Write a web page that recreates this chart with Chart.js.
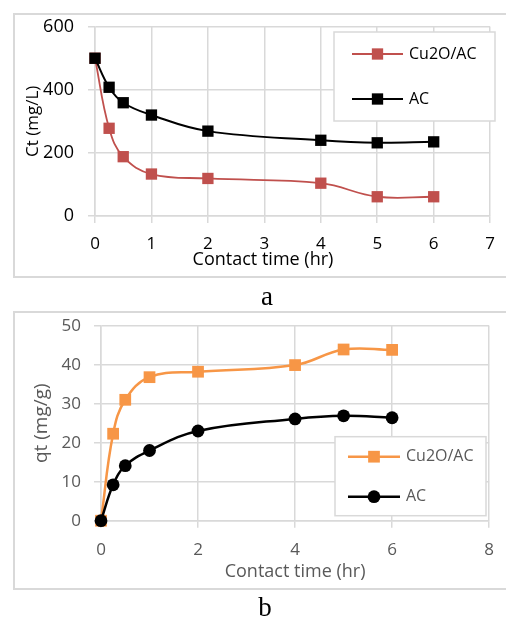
<!DOCTYPE html>
<html>
<head>
<meta charset="utf-8">
<script src="https://cdn.jsdelivr.net/npm/chart.js@4/dist/chart.umd.min.js"></script>
<style>
  body { margin: 0; width: 506px; height: 619px; overflow: hidden; background: #fff; position: relative; }
  .frame { position: absolute; left: 13px; width: 530px; border: 2px solid #d9d9d9; box-sizing: border-box; }
  #frameA { top: 13px; height: 265px; }
  #frameB { top: 311px; height: 279px; }
  canvas { position: absolute; left: 0; }
  #chartA { top: 0; }
  #chartB { top: 300px; }
  .lbl { position: absolute; width: 24px; text-align: center; font: 27px "Liberation Serif", "Times New Roman", serif; line-height: 27px; color: #000; }
</style>
</head>
<body>
<div class="frame" id="frameA"></div>
<div class="frame" id="frameB"></div>
<canvas id="chartA" width="506" height="300"></canvas>
<canvas id="chartB" width="506" height="319"></canvas>
<div class="lbl" style="left:255px; top:283px;">a</div>
<div class="lbl" style="left:253px; top:594px;">b</div>
<script>
// contact time (hr), shared by both panels
const timeHr = [0, 0.25, 0.5, 1, 2, 4, 5, 6];

// panel a - Ct (mg/L)
const ctCu2O = [500, 278, 188, 133, 119, 104, 61, 61];
const ctAC = [500, 408, 359, 320, 269, 240, 232, 235];
const ctTicksY = [0, 200, 400, 600];
const ctTicksX = [0, 1, 2, 3, 4, 5, 6, 7];

// panel b - qt (mg/g)
const qtCu2O = [0, 22.3, 31.0, 36.8, 38.2, 39.9, 43.9, 43.8];
const qtAC = [0, 9.2, 14.1, 18.0, 23.0, 26.1, 26.9, 26.4];
const qtTicksY = [0, 10, 20, 30, 40, 50];
const qtTicksX = [0, 2, 4, 6, 8];

const seriesNames = ['Cu2O/AC', 'AC'];

Chart.defaults.font.family = '"Open Sans", "Noto Sans", sans-serif';
Chart.defaults.animation = false;

const toPoints = (ys) => ys.map((y, i) => ({ x: timeHr[i], y: y }));
const fixedTicks = (list) => (scale) => { scale.ticks = list.map(v => ({ value: v })); };

function drawMarker(ctx, style, r, x, y, color) {
  ctx.fillStyle = color;
  ctx.beginPath();
  if (style === 'circle') {
    ctx.arc(x, y, r, 0, Math.PI * 2);
  } else {
    const s = r * Math.SQRT1_2;
    ctx.rect(x - s, y - s, 2 * s, 2 * s);
  }
  ctx.fill();
}

// Excel style legend box sitting inside the plot
const boxLegend = {
  id: 'boxLegend',
  afterDraw(chart, args, opts) {
    const ctx = chart.ctx;
    ctx.save();
    ctx.fillStyle = '#fff';
    ctx.fillRect(opts.x, opts.y, opts.w, opts.h);
    ctx.strokeStyle = '#d9d9d9';
    ctx.lineWidth = 1.5;
    ctx.strokeRect(opts.x, opts.y, opts.w, opts.h);
    ctx.font = opts.font;
    ctx.textBaseline = 'middle';
    seriesNames.forEach((name, i) => {
      const ds = chart.data.datasets.find(d => d.label === name);
      const y = opts.rows[i];
      ctx.strokeStyle = ds.borderColor;
      ctx.lineWidth = ds.borderWidth;
      ctx.beginPath();
      ctx.moveTo(opts.line[0], y);
      ctx.lineTo(opts.line[1], y);
      ctx.stroke();
      drawMarker(ctx, ds.pointStyle, ds.pointRadius, (opts.line[0] + opts.line[1]) / 2, y, ds.backgroundColor);
      ctx.fillStyle = opts.color;
      ctx.fillText(name, opts.textX, y);
    });
    ctx.restore();
  }
};

// free standing axis title (panel a has it off-centre)
const freeTitle = {
  id: 'freeTitle',
  afterDraw(chart, args, opts) {
    if (!opts.text) return;
    const ctx = chart.ctx;
    ctx.save();
    ctx.font = opts.font;
    ctx.fillStyle = opts.color;
    ctx.textAlign = 'center';
    ctx.textBaseline = 'middle';
    ctx.fillText(opts.text, opts.x, opts.y);
    ctx.restore();
  }
};

const gridStyle = { color: '#d9d9d9', lineWidth: 1.5, tickLength: 7, tickColor: '#d9d9d9' };
const borderStyle = { color: '#d9d9d9', width: 1.5 };

// Panel a
new Chart(document.getElementById('chartA'), {
  type: 'line',
  data: {
    datasets: [{
      label: 'Cu2O/AC',
      data: toPoints(ctCu2O),
      borderColor: '#c0504d',
      backgroundColor: '#c0504d',
      borderWidth: 1.8,
      pointStyle: 'rect',
      pointRadius: 8,
      pointBorderWidth: 0,
      tension: 0.4,
      clip: false,
      order: 1
    }, {
      label: 'AC',
      data: toPoints(ctAC),
      borderColor: '#000000',
      backgroundColor: '#000000',
      borderWidth: 2,
      pointStyle: 'rect',
      pointRadius: 8,
      pointBorderWidth: 0,
      tension: 0.4,
      clip: false,
      order: 0
    }]
  },
  options: {
    responsive: false,
    layout: { padding: { left: 0, top: 26.7, right: 8, bottom: 24 } },
    scales: {
      x: {
        type: 'linear',
        min: 0,
        max: 7,
        afterBuildTicks: fixedTicks(ctTicksX),
        afterFit: (s) => { s.height = 60; },
        grid: gridStyle,
        border: borderStyle,
        ticks: { color: '#000', padding: 11, font: { size: 17 } }
      },
      y: {
        min: 0,
        max: 600,
        afterBuildTicks: fixedTicks(ctTicksY),
        afterFit: (s) => { s.width = 95; },
        grid: gridStyle,
        border: borderStyle,
        ticks: { color: '#000', padding: 14, font: { size: 18 } },
        title: { display: true, text: 'Ct (mg/L)', color: '#000', font: { size: 17 }, padding: { top: 23 } }
      }
    },
    plugins: {
      legend: { display: false },
      tooltip: { enabled: false },
      boxLegend: {
        x: 334, y: 32, w: 161, h: 89,
        rows: [54, 99], line: [352, 403], textX: 409,
        font: '16px "Open Sans"', color: '#000'
      },
      freeTitle: { text: 'Contact time (hr)', x: 263, y: 260, font: '18px "Open Sans"', color: '#000' }
    }
  },
  plugins: [boxLegend, freeTitle]
});

// Panel b
new Chart(document.getElementById('chartB'), {
  type: 'line',
  data: {
    datasets: [{
      label: 'Cu2O/AC',
      data: toPoints(qtCu2O),
      borderColor: '#f79646',
      backgroundColor: '#f79646',
      borderWidth: 2.5,
      pointStyle: 'rect',
      pointRadius: 8.3,
      pointBorderWidth: 0,
      tension: 0.4,
      clip: false,
      order: 1
    }, {
      label: 'AC',
      data: toPoints(qtAC),
      borderColor: '#000000',
      backgroundColor: '#000000',
      borderWidth: 2.5,
      pointStyle: 'circle',
      pointRadius: 6.4,
      pointBorderWidth: 0,
      tension: 0.4,
      clip: false,
      order: 0
    }]
  },
  options: {
    responsive: false,
    layout: { padding: { left: 0, top: 25.7, right: 7, bottom: 36.3 } },
    scales: {
      x: {
        type: 'linear',
        min: 0,
        max: 8,
        afterBuildTicks: fixedTicks(qtTicksX),
        afterFit: (s) => { s.height = 62; },
        grid: gridStyle,
        border: borderStyle,
        ticks: { color: '#595959', padding: 12, font: { size: 17 } },
        title: { display: true, text: 'Contact time (hr)', color: '#595959', font: { size: 18 }, padding: { top: 0, bottom: 0 } }
      },
      y: {
        min: 0,
        max: 50,
        afterBuildTicks: fixedTicks(qtTicksY),
        afterFit: (s) => { s.width = 101; },
        grid: gridStyle,
        border: borderStyle,
        ticks: { color: '#595959', padding: 13, font: { size: 17 } },
        title: { display: true, text: 'qt (mg/g)', color: '#595959', font: { size: 19 }, padding: { top: 30.6 } }
      }
    },
    plugins: {
      legend: { display: false },
      tooltip: { enabled: false },
      boxLegend: {
        x: 335, y: 136.7, w: 151, h: 79,
        rows: [156.7, 196.7], line: [348, 400], textX: 406,
        font: '16px "Open Sans"', color: '#595959'
      }
    }
  },
  plugins: [boxLegend, freeTitle]
});
</script>
</body>
</html>
